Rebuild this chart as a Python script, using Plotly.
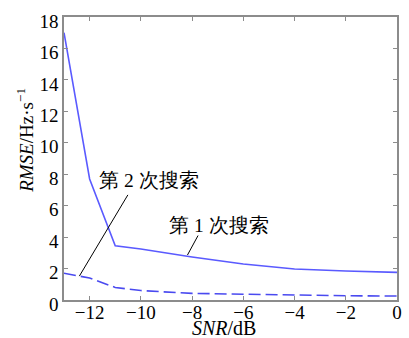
import plotly.graph_objects as go

snr = [-13, -12, -11, -10, -8, -6, -4, -2, 0]
rmse_search1 = [17.0, 7.7, 3.45, 3.24, 2.73, 2.29, 1.97, 1.84, 1.76]
rmse_search2 = [1.7, 1.4, 0.8, 0.6, 0.42, 0.36, 0.3, 0.27, 0.25]

xticks = [-12, -10, -8, -6, -4, -2, 0]
xticklabels = ["−12", "−10", "−8", "−6", "−4", "−2", "0"]
yticks = [0, 2, 4, 6, 8, 10, 12, 14, 16, 18]

FONT = "Liberation Serif"

fig = go.Figure()
fig.add_trace(go.Scatter(x=snr, y=rmse_search1, mode="lines",
                         line=dict(color="#5a5aff", width=1.6)))
fig.add_trace(go.Scatter(x=snr, y=rmse_search2, mode="lines",
                         line=dict(color="#4a4af0", width=1.6, dash="12px,5px")))


def axis(**kw):
    d = dict(showline=True, linecolor="#8c8c8c", linewidth=1.5, mirror="ticks",
             ticks="inside", ticklen=4, tickcolor="#8c8c8c", showgrid=False,
             zeroline=False, ticklabeloverflow="allow",
             tickfont=dict(family=FONT, size=19, color="black"))
    d.update(kw)
    return d


def leader(hx, hy, dx, dy):
    return dict(text="", x=hx, y=hy, ax=dx, ay=dy, xref="x", yref="y",
                axref="pixel", ayref="pixel", showarrow=True, arrowhead=0,
                arrowwidth=1, arrowcolor="black", standoff=0, startstandoff=0)


def label(text, x, y):
    return dict(text=text, x=x, y=y, xref="x", yref="y", showarrow=False,
                xanchor="center", yanchor="middle",
                font=dict(family=FONT, size=19.5, color="black"))


fig.update_layout(
    width=409, height=338,
    margin=dict(l=64, r=7, t=17, b=38),
    paper_bgcolor="white", plot_bgcolor="white",
    showlegend=False,
    font=dict(family=FONT, size=19, color="black"),
    xaxis=axis(range=[-13, 0], tickvals=xticks, ticktext=xticklabels,
               ticklabelstandoff=-6),
    yaxis=axis(range=[0, 18], tickvals=yticks, ticklabelshift=4),
    annotations=[
        dict(text="<i>SNR</i>/dB", xref="paper", yref="paper", x=0.48, y=-0.099,
             xanchor="center", yanchor="middle", showarrow=False,
             font=dict(family=FONT, size=20, color="black")),
        dict(text="<i>RMSE</i>/Hz·s<sup>−1</sup>", xref="paper", yref="paper",
             x=-0.118, y=0.565, textangle=-90, xanchor="center", yanchor="middle",
             showarrow=False, font=dict(family=FONT, size=19, color="black")),
        label("第 2 次搜索", -9.69, 7.62),
        leader(-12.4, 1.52, 49.4, -82.7),
        label("第 1 次搜索", -6.96, 4.76),
        leader(-8.18, 2.86, 11.4, -21),
    ],
)

fig.write_html("out.html", config={"displayModeBar": False},
               post_script="document.body.style.margin='0';")
